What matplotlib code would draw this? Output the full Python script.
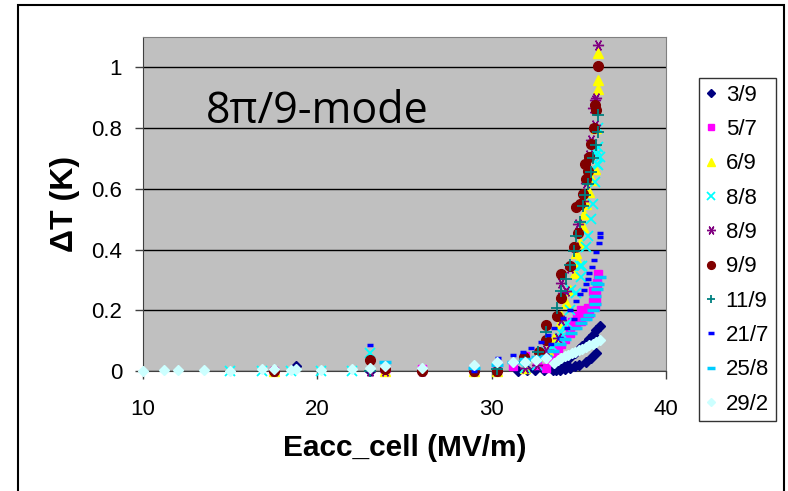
import matplotlib
matplotlib.use("Agg")
import matplotlib.pyplot as plt
from matplotlib.patches import Rectangle

plt.rcParams['font.family'] = ['Liberation Sans', 'DejaVu Sans']

# ---- data: Eacc_cell (MV/m) vs delta T (K) ----
labels = ['3/9', '5/7', '6/9', '8/8', '8/9', '9/9', '11/9', '21/7', '25/8', '29/2']

x_3_9 = [17.5, 18.8, 23.0, 26.0, 29.0, 30.3, 31.5, 32.0, 32.5, 33.0, 33.5, 33.9, 34.2, 34.5,
         34.8, 35.0, 35.2, 35.4, 35.6, 35.8, 36.0, 36.2, 33.7, 33.9, 34.2, 34.5, 34.8, 35.0,
         35.4, 35.7, 36.0]
y_3_9 = [0.0, 0.015, 0.0, 0.0, 0.0, 0.0, 0.0, 0.002, 0.002, 0.003, 0.004, 0.02, 0.03, 0.045,
         0.06, 0.072, 0.082, 0.092, 0.105, 0.118, 0.135, 0.147, 0.002, 0.003, 0.006, 0.009,
         0.015, 0.02, 0.031, 0.042, 0.059]

x_5_7 = [17.5, 23.9, 26.0, 29.0, 30.3, 31.2, 31.9, 32.6, 33.1, 33.5, 33.6, 33.8, 34.0, 34.2,
         34.5, 34.85, 35.1, 35.4, 35.6, 35.9, 36.0, 34.6, 34.9, 35.14, 35.5, 35.8, 35.9, 36.0,
         35.8, 36.05, 36.1]
y_5_7 = [0.0, 0.005, 0.005, 0.01, 0.02, 0.015, 0.05, 0.02, 0.01, 0.036, 0.059, 0.075, 0.09,
         0.105, 0.125, 0.15, 0.165, 0.18, 0.19, 0.215, 0.23, 0.16, 0.18, 0.2, 0.208, 0.228,
         0.241, 0.257, 0.263, 0.29, 0.318]

x_6_9 = [17.5, 23.9, 29.0, 30.3, 31.9, 32.75, 33.23, 33.6, 33.9, 33.99, 34.28, 34.47, 34.76,
         34.85, 34.95, 35.04, 35.23, 35.3, 35.4, 35.6, 35.75, 35.9, 36.0, 36.09, 36.09, 36.09]
y_6_9 = [0.0, 0.0, 0.0, 0.0, 0.01, 0.053, 0.07, 0.11, 0.158, 0.18, 0.224, 0.268, 0.324,
         0.39, 0.36, 0.423, 0.473, 0.517, 0.55, 0.589, 0.63, 0.666, 0.8, 0.93, 0.959, 1.047]

x_8_8 = [15.0, 16.8, 18.5, 20.2, 22.0, 23.0, 30.3, 31.9, 32.6, 33.13, 33.5, 33.9, 34.18,
         34.47, 34.85, 35.14, 35.2, 35.4, 35.5, 35.7, 35.8, 35.9, 36.0, 36.1, 36.2, 36.09,
         36.05, 36.0, 36.1, 34.0, 34.3, 34.56, 35.04]
y_8_8 = [0.0, 0.0, 0.0, 0.0, 0.0, 0.058, 0.01, 0.01, 0.02, 0.064, 0.08, 0.108, 0.147, 0.2,
         0.257, 0.31, 0.346, 0.41, 0.445, 0.5, 0.55, 0.622, 0.71, 0.738, 0.706, 0.677, 0.683,
         0.727, 0.8, 0.125, 0.158, 0.268, 0.346]

x_8_9 = [17.5, 23.0, 23.9, 26.0, 29.0, 30.3, 31.9, 32.6, 33.13, 33.8, 33.99, 34.09, 33.99,
         34.28, 34.5, 34.76, 34.95, 35.23, 35.4, 35.6, 35.7, 35.9, 35.8, 35.9, 36.0, 36.09]
y_8_9 = [0.0, 0.0, 0.0, 0.0, 0.0, 0.0, 0.01, 0.02, 0.07, 0.108, 0.169, 0.257, 0.29, 0.263,
         0.34, 0.407, 0.484, 0.561, 0.62, 0.71, 0.76, 0.81, 0.865, 0.893, 0.9, 1.075]

x_9_9 = [17.5, 23.0, 23.9, 26.0, 29.0, 30.3, 31.83, 32.71, 33.13, 33.13, 33.76, 33.99, 33.99,
         34.47, 34.72, 34.95, 34.85, 35.04, 35.23, 35.4, 35.5, 35.33, 35.6, 35.71, 35.85,
         36.0, 35.9, 36.09]
y_9_9 = [0.0, 0.036, 0.005, 0.0, 0.0, 0.0, 0.047, 0.064, 0.103, 0.152, 0.18, 0.241, 0.318,
         0.346, 0.407, 0.456, 0.539, 0.55, 0.583, 0.633, 0.66, 0.683, 0.705, 0.749, 0.8,
         0.86, 0.876, 1.003]

x_11_9 = [23.0, 30.3, 31.9, 32.65, 33.13, 33.74, 33.99, 34.28, 34.5, 34.72, 34.85, 35.04,
          35.23, 35.33, 35.5, 35.7, 35.8, 36.0, 36.1, 36.09]
y_11_9 = [0.0, 0.005, 0.03, 0.064, 0.13, 0.208, 0.263, 0.302, 0.35, 0.395, 0.445, 0.49,
          0.545, 0.578, 0.617, 0.655, 0.7, 0.743, 0.788, 0.843]

x_21_7 = [23.0, 29.0, 30.35, 31.2, 31.8, 32.27, 32.85, 33.23, 33.6, 34.09, 34.47, 34.85,
          35.04, 35.3, 35.4, 35.5, 35.6, 35.77, 35.85, 36.0, 36.15, 36.19, 36.23, 33.4,
          33.9, 34.3, 34.7]
y_21_7 = [0.084, 0.0, 0.043, 0.053, 0.064, 0.075, 0.097, 0.12, 0.14, 0.175, 0.2, 0.23,
          0.252, 0.268, 0.285, 0.304, 0.324, 0.344, 0.365, 0.393, 0.423, 0.44, 0.456, 0.09,
          0.11, 0.14, 0.17]

x_25_8 = [23.9, 29.0, 30.3, 31.2, 31.9, 32.6, 33.1, 33.5, 33.9, 34.2, 34.56, 34.85, 35.14,
          35.4, 35.6, 35.8, 35.9, 35.9, 36.05, 36.1, 36.0, 36.2]
y_25_8 = [0.031, 0.01, 0.02, 0.03, 0.04, 0.045, 0.05, 0.065, 0.09, 0.105, 0.125, 0.14, 0.158,
          0.172, 0.186, 0.2, 0.22, 0.246, 0.27, 0.285, 0.29, 0.308]

x_29_2 = [10.0, 11.2, 12.0, 13.5, 15.0, 16.8, 17.5, 18.5, 18.8, 20.2, 22.0, 23.0, 23.9, 26.0,
          29.0, 30.3, 31.2, 31.9, 32.56, 33.13, 33.6, 33.8, 34.0, 34.2, 34.4, 34.6, 34.8,
          35.0, 35.2, 35.4, 35.6, 35.8, 36.0, 36.2]
y_29_2 = [0.0, 0.003, 0.003, 0.003, 0.0, 0.006, 0.006, 0.004, 0.006, 0.003, 0.008, 0.01,
          0.015, 0.01, 0.02, 0.031, 0.031, 0.031, 0.036, 0.042, 0.025, 0.035, 0.042, 0.048,
          0.053, 0.058, 0.063, 0.068, 0.073, 0.078, 0.084, 0.09, 0.096, 0.102]

xs = [x_3_9, x_5_7, x_6_9, x_8_8, x_8_9, x_9_9, x_11_9, x_21_7, x_25_8, x_29_2]
ys = [y_3_9, y_5_7, y_6_9, y_8_8, y_8_9, y_9_9, y_11_9, y_21_7, y_25_8, y_29_2]

# ---- style per series (Excel default scatter markers) ----
colors = ['#000080', '#FF00FF', '#FFFF00', '#00FFFF', '#800080',
          '#800000', '#008080', '#0000FF', '#00CCFF', '#CCFFFF']
markers = ['D', 's', '^', 'x', (6, 2, 90), 'o', '+', '_', '_', 'D']
sizes = [5, 6, 7, 7, 8, 7, 8, 5, 8, 5]
edgew = [1, 1, 1, 1.3, 1, 1, 1.3, 2.5, 2.5, 1]

fig = plt.figure(figsize=(7.88, 4.91), dpi=100)
ax = fig.add_axes([143/788, 1 - 371/491, (666-143)/788, (371-37)/491])
ax.set_facecolor('#C0C0C0')

for xv, yv, lab, c, m, s, ew in zip(xs, ys, labels, colors, markers, sizes, edgew):
    ax.plot(xv, yv, linestyle='none', marker=m, ms=s, color=c, mec=c, mfc=c,
            mew=ew, label=lab, clip_on=False, zorder=3)

ax.set_xlim(10, 40)
ax.set_ylim(0, 1.1)
ax.set_xticks([10, 20, 30, 40])
ax.set_yticks([0, 0.2, 0.4, 0.6, 0.8, 1])
ax.set_yticklabels(['0', '0.2', '0.4', '0.6', '0.8', '1'])
ax.grid(axis='y', color='black', lw=1)
ax.set_axisbelow(True)
ax.tick_params(labelsize=16, length=6, width=1, color='#404040')
ax.tick_params(axis='x', pad=14)
ax.tick_params(axis='y', pad=9)
for side in ['left', 'bottom']:
    ax.spines[side].set_color('#404040')
for side in ['top', 'right']:
    ax.spines[side].set_color('#808080')

ax.set_xlabel('Eacc_cell (MV/m)', fontsize=21.5, fontweight='bold', labelpad=10)
ax.set_ylabel('\u0394T (K)', fontsize=23, fontweight='bold', labelpad=8)

ax.text(0.12, 0.775, '8\u03c0/9-mode', transform=ax.transAxes, fontsize=31,
        family=['Open Sans', 'DejaVu Sans'], va='center', ha='left')

leg = fig.legend(loc='upper left', bbox_to_anchor=(699/788, 1 - 78/491),
                 fontsize=16, frameon=True, fancybox=False, edgecolor='black',
                 handlelength=0.5, handletextpad=0.4, labelspacing=0.6,
                 borderpad=0.3, borderaxespad=0)
leg.get_frame().set_linewidth(1)
for h in leg.legend_handles:
    h.set_markersize(h.get_markersize() * 0.8)

# outer chart border
fig.patches.append(Rectangle((18/788, -0.02), (784-18)/788, 1.02 - 5/491,
                             transform=fig.transFigure, fill=False, ec='black', lw=1.5))

fig.savefig('out.png', dpi=100)
